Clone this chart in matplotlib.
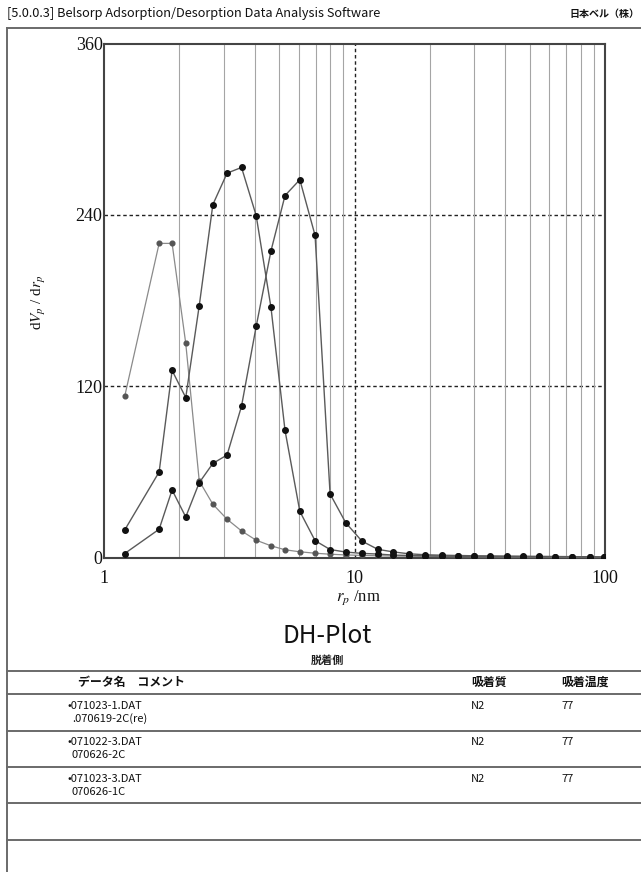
import numpy as np
import matplotlib
matplotlib.use('Agg')
import matplotlib.pyplot as plt
from matplotlib.lines import Line2D
from matplotlib.ticker import LogLocator, NullFormatter, FixedLocator

# pore radius (nm), same grid for all three files
r_p = [1.21, 1.66, 1.87, 2.12, 2.40, 2.72, 3.10, 3.54, 4.05, 4.64, 5.28,
       6.05, 6.96, 7.99, 9.23, 10.7, 12.4, 14.3, 16.5, 19.2, 22.4, 26.0,
       30.1, 34.8, 40.5, 47.2, 54.7, 63.3, 74.1, 87.1, 99.5]

# dVp/drp for each file
dv_071023_1 = [113, 220, 220, 150, 53.6, 37.3, 26.8, 18.6, 12.1, 8.2, 5.4,
               4.0, 3.0, 2.3, 1.8, 1.5, 1.2, 1.0, 0.9, 0.8, 0.7, 0.6,
               0.5, 0.5, 0.4, 0.4, 0.3, 0.3, 0.2, 0.2, 0.2]
dv_071022_3 = [19.3, 59.9, 131, 112, 176.4, 247.2, 269.2, 273.2, 239.5, 175.2, 89.0,
               32.3, 11.8, 5.6, 3.8, 2.9, 2.4, 1.7, 1.4, 1.2, 1.0, 0.9,
               0.8, 0.7, 0.6, 0.6, 0.5, 0.5, 0.4, 0.4, 0.3]
dv_071023_3 = [2.8, 19.8, 47.3, 28.4, 52.4, 65.9, 71.8, 106, 161.8, 214.7, 253.5,
               264.6, 225.6, 44.5, 24.3, 11.5, 5.7, 3.9, 2.6, 1.9, 1.6, 1.4,
               1.2, 1.1, 1.0, 0.9, 0.8, 0.7, 0.6, 0.5, 0.4]

yticks = [0, 120, 240, 360]
xticks = [1, 10, 100]

header_left = '[5.0.0.3] Belsorp Adsorption/Desorption Data Analysis Software'
header_right = '日本ベル（株）'
col_names = ['データ名　コメント', '吸着質', '吸着温度']
files = ['071023-1.DAT', '071022-3.DAT', '071023-3.DAT']
comments = ['.070619-2C(re)', '070626-2C', '070626-1C']
adsorbates = ['N2', 'N2', 'N2']
temps = ['77', '77', '77']

W, H = 641, 872
jp = ['Noto Sans CJK JP', 'DejaVu Sans']
plt.rcParams['font.family'] = jp
plt.rcParams['mathtext.fontset'] = 'stix'


def fx(px):
    return px / W


def fy(py):
    return 1 - py / H


fig = plt.figure(figsize=(W / 100, H / 100), dpi=100)
fig.patch.set_facecolor('white')

ax = fig.add_axes([fx(104), fy(557.5), fx(605) - fx(104), fy(43.5) - fy(557.5)])
ax.set_xscale('log')
ax.set_xlim(1, 100)
ax.set_ylim(0, 360)

# minor vertical grid (solid, grey), major dashed lines
ax.xaxis.set_minor_locator(LogLocator(base=10, subs=np.arange(2, 10)))
ax.xaxis.set_minor_formatter(NullFormatter())
ax.grid(True, which='minor', axis='x', color='#a5a5a5', lw=0.8, ls='-')
for v in [10]:
    ax.axvline(v, color='#222222', lw=1.0, ls=(0, (2.5, 2)), zorder=1)
for v in [120, 240]:
    ax.axhline(v, color='#222222', lw=1.0, ls=(0, (2.5, 2)), zorder=1)

ax.plot(r_p, dv_071023_1, color='#8a8a8a', lw=0.9, marker='o', ms=3.4,
        mfc='#555555', mec='#555555', zorder=3)
ax.plot(r_p, dv_071022_3, color='#5a5a5a', lw=1.0, marker='o', ms=4.0,
        mfc='#111111', mec='#111111', zorder=4)
ax.plot(r_p, dv_071023_3, color='#5a5a5a', lw=1.0, marker='o', ms=4.0,
        mfc='#111111', mec='#111111', zorder=4)

ax.xaxis.set_major_locator(FixedLocator(xticks))
ax.set_xticklabels([str(t) for t in xticks])
ax.set_yticks(yticks)
ax.set_yticklabels([str(t) for t in yticks])
for lab in ax.get_xticklabels() + ax.get_yticklabels():
    lab.set_fontfamily('Liberation Serif')
    lab.set_fontsize(13)
    lab.set_color('#111111')
ax.tick_params(axis='both', which='both', length=0)
ax.tick_params(axis='x', pad=9)
ax.tick_params(axis='y', pad=1)
for s in ax.spines.values():
    s.set_color('#444444')
    s.set_linewidth(1.5)

fig.text(fx(358), fy(598), r'$r_p$ /nm', ha='center', va='center',
         fontsize=12, family='Liberation Serif', color='#111111')
fig.text(fx(39), fy(302), r'd$V_p$ / d$r_p$', ha='center', va='center',
         rotation=90, fontsize=11, family='Liberation Serif', color='#111111')

# page header and frame
fig.text(fx(7), fy(14), header_left, ha='left', va='center', fontsize=9.2,
         color='#111111')
fig.text(fx(639), fy(14), header_right, ha='right', va='center', fontsize=7.2,
         weight='bold', color='#111111')

frame_kw = dict(color='#6a6a6a', lw=1.4, transform=fig.transFigure)
fig.add_artist(Line2D([fx(7), fx(7)], [fy(28), fy(872)], **frame_kw))
fig.add_artist(Line2D([fx(7), fx(641)], [fy(28), fy(28)], **frame_kw))
for py in [671, 694, 731, 767, 803, 840]:
    fig.add_artist(Line2D([fx(7), fx(641)], [fy(py), fy(py)], **frame_kw))

fig.text(fx(327), fy(643), 'DH-Plot', ha='center', va='baseline',
         fontsize=17.5, color='#111111')
fig.text(fx(327), fy(660), '脱着側', ha='center', va='center',
         fontsize=8, weight='bold', color='#222222')

# table
col_x = [78, 471, 561]
for name, cx in zip(col_names, col_x):
    fig.text(fx(cx), fy(682), name, ha='left', va='center', fontsize=8.6,
             weight='bold', color='#111111')

row_y = [706, 742, 779]
for f, c, a, t, ry in zip(files, comments, adsorbates, temps, row_y):
    fig.text(fx(68), fy(ry), '•' + f, ha='left', va='center', fontsize=8,
             color='#111111')
    fig.text(fx(72), fy(ry + 12.5), c, ha='left', va='center', fontsize=8,
             color='#111111')
    fig.text(fx(471), fy(ry), a, ha='left', va='center', fontsize=8,
             color='#111111')
    fig.text(fx(561), fy(ry), t, ha='left', va='center', fontsize=8,
             color='#111111')

fig.savefig('out.png', dpi=100)
